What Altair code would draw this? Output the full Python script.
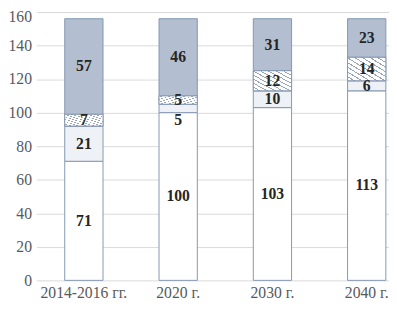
import altair as alt
import pandas as pd

categories = ["2014-2016 гг.", "2020 г.", "2030 г.", "2040 г."]
series_names = ["s1", "s2", "s3", "s4"]
s1 = [71, 100, 103, 113]
s2 = [21, 5, 10, 6]
s3 = [7, 5, 12, 14]
s4 = [57, 46, 31, 23]
y_ticks = [0, 20, 40, 60, 80, 100, 120, 140, 160]

rows = []
for i, c in enumerate(categories):
    for k, vals in enumerate([s1, s2, s3, s4]):
        rows.append({"cat": c, "series": series_names[k], "order": k, "value": vals[i]})
df = pd.DataFrame(rows)

FONT = "Liberation Serif"
STROKE = "#8497b0"

base = alt.Chart(df).transform_stack(
    stack="value", groupby=["cat"], as_=["y0", "y1"], sort=[alt.SortField("order")]
).transform_calculate(mid="(datum.y0 + datum.y1) / 2")

x_axis = alt.Axis(title=None, labelAngle=0, ticks=False, domain=False, grid=False,
                  labelFont=FONT, labelFontSize=16, labelColor="#595959",
                  labelPadding=4)
x_scale = alt.Scale(paddingInner=0.594, paddingOuter=0.167, align=0.9)
y_axis = alt.Axis(values=y_ticks, title=None, ticks=False, domain=False, grid=True,
                  gridColor="#d9d9d9", gridWidth=1, labelFont=FONT, labelFontSize=16,
                  labelColor="#595959", labelPadding=5,
                  labelOffset={"condition": {"test": "datum.value == 160", "value": 5},
                               "value": 0})
y_scale = alt.Scale(domain=[0, 160], nice=False)


def xe():
    return alt.X("cat:N", sort=categories, scale=x_scale, axis=x_axis)


def ye(field):
    return alt.Y(field, scale=y_scale, axis=y_axis)


bars = base.mark_bar(stroke=STROKE, strokeWidth=1).encode(
    x=xe(),
    y=ye("y0:Q"),
    y2="y1:Q",
    fill=alt.Fill("series:N", legend=None,
                  scale=alt.Scale(domain=series_names,
                                  range=["#ffffff", "#eef1f5", "#ffffff", "#b3bed0"])),
)

stops = []
n = 10
for j in range(n):
    a = j / n
    b = (j + 0.75) / n
    c = (j + 1) / n
    stops += [
        alt.GradientStop(offset=a, color="#ffffff"),
        alt.GradientStop(offset=b, color="#ffffff"),
        alt.GradientStop(offset=b, color="#9aa6b8"),
        alt.GradientStop(offset=c, color="#9aa6b8"),
    ]
hatch_fill = alt.LinearGradient(gradient="linear", x1=0, y1=1, x2=1, y2=0, stops=stops)

hatch = base.transform_filter(alt.datum.series == "s3").mark_bar(
    stroke=STROKE, strokeWidth=1, fill=hatch_fill
).encode(x=xe(), y=ye("y0:Q"), y2="y1:Q")

label_cond = (alt.datum.cat == "2020 г.") & (alt.datum.series == "s2")

texts = base.transform_filter(~label_cond).mark_text(
    font=FONT, fontSize=16, fontWeight="bold", color="#262626", baseline="middle"
).encode(x=xe(), y=ye("mid:Q"), text="value:Q")

text_low = base.transform_filter(label_cond).mark_text(
    font=FONT, fontSize=16, fontWeight="bold", color="#262626", baseline="middle", dy=12
).encode(x=xe(), y=ye("mid:Q"), text="value:Q")

chart = alt.layer(bars, hatch, texts, text_low).properties(
    width=360, height=274,
    autosize=alt.AutoSizeParams(type="none"),
    padding={"left": 29, "top": 1, "right": 0, "bottom": 19},
).configure_view(stroke=None)

chart.save("out.html", embed_options={"renderer": "svg", "actions": False})
